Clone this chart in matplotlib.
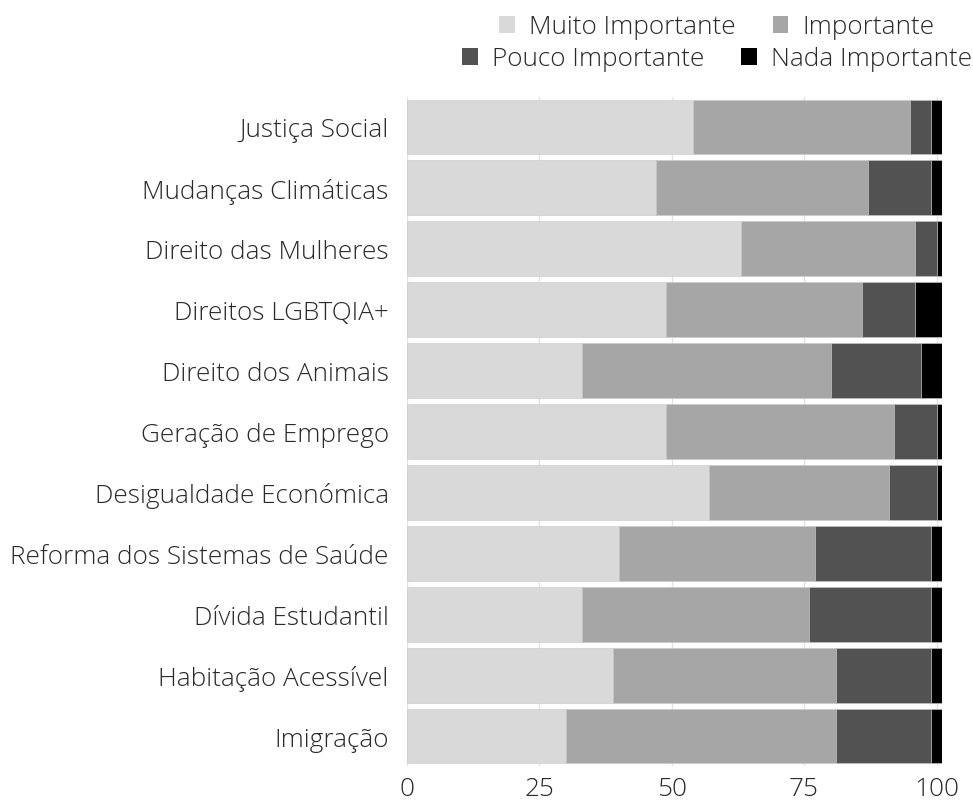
import matplotlib.pyplot as plt
from matplotlib.patches import Patch

plt.rcParams['font.family'] = ['Open Sans', 'DejaVu Sans']

# categorias (de cima para baixo)
categorias = [
    "Justiça Social", "Mudanças Climáticas", "Direito das Mulheres",
    "Direitos LGBTQIA+", "Direito dos Animais", "Geração de Emprego",
    "Desigualdade Económica", "Reforma dos Sistemas de Saúde",
    "Dívida Estudantil", "Habitação Acessível", "Imigração",
]
muito = [54, 47, 63, 49, 33, 49, 57, 40, 33, 39, 30]
importante = [41, 40, 33, 37, 47, 43, 34, 37, 43, 42, 51]
pouco = [4, 12, 4, 10, 17, 8, 9, 22, 23, 18, 18]
nada = [2, 2, 1, 5, 4, 1, 1, 2, 2, 2, 2]

series = ["Muito Importante", "Importante", "Pouco Importante", "Nada Importante"]
cores = ["#d9d9d9", "#a6a6a6", "#525252", "#000000"]
valores = [muito, importante, pouco, nada]
ticks_x = [0, 25, 50, 75, 100]

FS = 18.8

fig = plt.figure(figsize=(9.73, 8.04), dpi=100)
ax = fig.add_axes([0.418, 0.0454, 0.55, 0.8333])

y = list(range(len(categorias)))
esquerda = [0] * len(categorias)
for nome, vals, cor in zip(series, valores, cores):
    ax.barh(y, vals, left=esquerda, height=0.9, color=cor,
            edgecolor='#c8c8c8', linewidth=0.4, zorder=2)
    esquerda = [a + b for a, b in zip(esquerda, vals)]

ax.set_ylim(len(categorias) - 0.5, -0.5)
ax.set_xlim(0, 101)
ax.set_yticks(y)
ax.set_yticklabels(categorias, fontsize=FS, fontweight='light', color='#2a2a2a')
ax.set_xticks(ticks_x)
ax.set_xticklabels([str(t) for t in ticks_x], fontsize=FS, fontweight='light', color='#2a2a2a')
ax.tick_params(axis='y', length=0, pad=13)
ax.tick_params(axis='x', length=0, pad=7)
ax.xaxis.grid(True, color='#e3e3e3', linewidth=1, zorder=0)
ax.set_axisbelow(True)
for s in ax.spines.values():
    s.set_visible(False)

# legenda em duas linhas centradas
h = [Patch(facecolor=c, edgecolor='none') for c in cores]
kw = dict(frameon=False, ncol=2, handlelength=0.6, handleheight=0.6,
          handletextpad=0.55, columnspacing=1.4, borderpad=0, borderaxespad=0,
          prop={'weight': 'light', 'size': FS}, labelcolor='#2a2a2a')
fig.legend(h[:2], series[:2], loc='center', bbox_to_anchor=(0.737, 1 - 28 / 804), **kw)
fig.legend(h[2:], series[2:], loc='center', bbox_to_anchor=(0.737, 1 - 60 / 804), **kw)

fig.savefig('out.png', dpi=100)
